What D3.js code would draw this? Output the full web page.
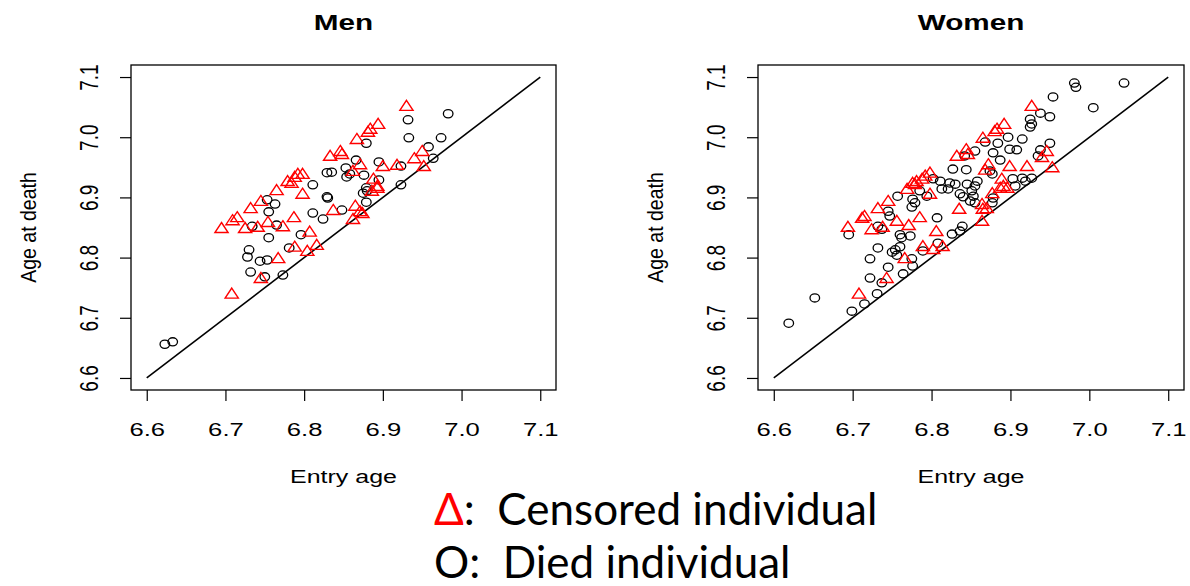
<!DOCTYPE html>
<html>
<head>
<meta charset="utf-8">
<script src="https://cdn.jsdelivr.net/npm/d3@7"></script>
<style>
  body { margin: 0; background: #fff; }
  svg { display: block; }
</style>
</head>
<body>
<svg id="chart" width="1190" height="586"></svg>
<script>
// Values (log-scale ages): [entry age, age at death]
const menDied = [
  [6.829, 6.941], [6.835, 6.942], [6.853, 6.949], [6.854, 6.934], [6.811, 6.921],
  [6.829, 6.901], [6.830, 6.899], [6.753, 6.896], [6.763, 6.889], [6.755, 6.876],
  [6.811, 6.874], [6.824, 6.864], [6.848, 6.879], [6.734, 6.852], [6.765, 6.854],
  [6.755, 6.833], [6.796, 6.838], [6.730, 6.813], [6.781, 6.816], [6.728, 6.801],
  [6.744, 6.794], [6.753, 6.796], [6.732, 6.776], [6.750, 6.768], [6.773, 6.771],
  [6.623, 6.656], [6.633, 6.660], [6.932, 7.029], [6.983, 7.039], [6.879, 6.990],
  [6.933, 6.999], [6.974, 6.999], [6.958, 6.984], [6.964, 6.965], [6.866, 6.962],
  [6.895, 6.959], [6.923, 6.952], [6.858, 6.939], [6.876, 6.937], [6.895, 6.929],
  [6.879, 6.916], [6.875, 6.907], [6.880, 6.911], [6.923, 6.921], [6.879, 6.892]
];
const menCensored = [
  [6.833, 6.969], [6.846, 6.977], [6.848, 6.972], [6.792, 6.939], [6.798, 6.939],
  [6.788, 6.934], [6.779, 6.927], [6.784, 6.924], [6.765, 6.912], [6.798, 6.906],
  [6.745, 6.894], [6.732, 6.882], [6.715, 6.867], [6.709, 6.862], [6.695, 6.849],
  [6.725, 6.849], [6.741, 6.851], [6.754, 6.859], [6.773, 6.852], [6.787, 6.867],
  [6.807, 6.843], [6.837, 6.879], [6.788, 6.818], [6.804, 6.811], [6.816, 6.821],
  [6.767, 6.799], [6.745, 6.766], [6.708, 6.740], [6.930, 7.052], [6.894, 7.022],
  [6.884, 7.014], [6.881, 7.009], [6.867, 6.997], [6.950, 6.977], [6.940, 6.965],
  [6.871, 6.955], [6.900, 6.952], [6.918, 6.954], [6.952, 6.952], [6.862, 6.944],
  [6.888, 6.931], [6.893, 6.916], [6.886, 6.911], [6.893, 6.919], [6.865, 6.886],
  [6.871, 6.877], [6.874, 6.874], [6.862, 6.864]
];
const womenDied = [
  [6.827, 6.947], [6.844, 6.946], [6.802, 6.931], [6.811, 6.927], [6.823, 6.924],
  [6.830, 6.922], [6.836, 6.906], [6.840, 6.901], [6.813, 6.914], [6.821, 6.914],
  [6.794, 6.902], [6.785, 6.911], [6.757, 6.902], [6.776, 6.897], [6.779, 6.891],
  [6.775, 6.884], [6.745, 6.877], [6.747, 6.869], [6.807, 6.866], [6.839, 6.852],
  [6.836, 6.844], [6.826, 6.839], [6.732, 6.852], [6.737, 6.847], [6.695, 6.838],
  [6.760, 6.838], [6.762, 6.833], [6.773, 6.836], [6.981, 7.090], [6.983, 7.083],
  [7.044, 7.090], [6.954, 7.067], [7.005, 7.049], [6.938, 7.040], [6.950, 7.034],
  [6.925, 7.030], [6.927, 7.022], [6.925, 7.017], [6.897, 7.000], [6.915, 6.997],
  [6.884, 6.990], [6.868, 6.992], [6.899, 6.980], [6.908, 6.979], [6.950, 6.990],
  [6.938, 6.979], [6.935, 6.969], [6.878, 6.974], [6.855, 6.977], [6.842, 6.969],
  [6.887, 6.962], [6.874, 6.944], [6.877, 6.939], [6.858, 6.927], [6.855, 6.919],
  [6.851, 6.911], [6.845, 6.922], [6.853, 6.902], [6.849, 6.894], [6.855, 6.891],
  [6.878, 6.899], [6.877, 6.891], [6.915, 6.932], [6.919, 6.927], [6.927, 6.932],
  [6.903, 6.931], [6.906, 6.919], [6.732, 6.816], [6.750, 6.809], [6.754, 6.813],
  [6.760, 6.818], [6.756, 6.804], [6.722, 6.798], [6.745, 6.784], [6.775, 6.798],
  [6.776, 6.786], [6.789, 6.811], [6.808, 6.824], [6.722, 6.766], [6.764, 6.773],
  [6.737, 6.758], [6.731, 6.740], [6.715, 6.723], [6.699, 6.711], [6.652, 6.733],
  [6.619, 6.691]
];
const womenCensored = [
  [6.832, 6.969], [6.844, 6.980], [6.798, 6.941], [6.792, 6.936], [6.788, 6.931],
  [6.781, 6.927], [6.776, 6.924], [6.779, 6.922], [6.769, 6.914], [6.798, 6.906],
  [6.745, 6.894], [6.732, 6.882], [6.835, 6.881], [6.715, 6.869], [6.712, 6.866],
  [6.785, 6.867], [6.756, 6.861], [6.694, 6.851], [6.724, 6.847], [6.738, 6.851],
  [6.771, 6.854], [6.806, 6.844], [6.846, 6.972], [6.927, 7.052], [6.892, 7.022],
  [6.880, 7.010], [6.883, 7.014], [6.865, 6.999], [6.946, 6.977], [6.940, 6.967],
  [6.872, 6.955], [6.868, 6.946], [6.899, 6.952], [6.921, 6.952], [6.953, 6.950],
  [6.889, 6.931], [6.891, 6.919], [6.887, 6.916], [6.896, 6.916], [6.877, 6.907],
  [6.864, 6.889], [6.870, 6.882], [6.865, 6.881], [6.864, 6.861], [6.789, 6.819],
  [6.802, 6.814], [6.814, 6.819], [6.766, 6.799], [6.743, 6.766], [6.708, 6.740]
];
const refLine = [6.6, 7.1];
const xTicks = [6.6, 6.7, 6.8, 6.9, 7.0, 7.1];
const yTicks = [6.6, 6.7, 6.8, 6.9, 7.0, 7.1];
const axisDomain = [6.58, 7.12];

// the source plot was stretched sideways, so the text is too
const SX = 1.35;
const svg = d3.select('#chart');

const panels = [
  { title: 'Men', left: 131, right: 556, died: menDied, censored: menCensored },
  { title: 'Women', left: 758, right: 1184, died: womenDied, censored: womenCensored }
];
const plotTop = 65, plotBottom = 390;

const triangle = 'M0,-5.6L6.6,4.4L-6.6,4.4Z';

panels.forEach(p => {
  const x = d3.scaleLinear().domain(axisDomain).range([p.left, p.right]);
  const y = d3.scaleLinear().domain(axisDomain).range([plotBottom, plotTop]);
  const g = svg.append('g').style('font-family', '"Liberation Sans", Arial, sans-serif');
  const mid = (p.left + p.right) / 2;

  // title
  g.append('text')
    .attr('transform', `translate(${mid},30) scale(${SX},1)`)
    .attr('text-anchor', 'middle')
    .style('font-size', '22px')
    .style('font-weight', 'bold')
    .text(p.title);

  // x axis
  const xa = g.append('g')
    .attr('transform', `translate(0,${plotBottom})`)
    .call(d3.axisBottom(x).tickValues(xTicks).tickFormat(d3.format('.1f')).tickSize(11).tickSizeOuter(0));
  xa.select('.domain').remove();
  xa.selectAll('line').attr('stroke', '#000').attr('stroke-width', 1.2);
  xa.selectAll('text')
    .attr('y', null).attr('dy', null)
    .attr('transform', `translate(0,46) scale(${SX},1)`)
    .attr('fill', '#000')
    .style('font-size', '19px')
    .style('font-family', '"Liberation Sans", Arial, sans-serif');

  // y axis
  const ya = g.append('g')
    .attr('transform', `translate(${p.left},0)`)
    .call(d3.axisLeft(y).tickValues(yTicks).tickFormat(d3.format('.1f')).tickSize(11).tickSizeOuter(0));
  ya.select('.domain').remove();
  ya.selectAll('line').attr('stroke', '#000').attr('stroke-width', 1.2);
  ya.selectAll('text')
    .attr('x', null).attr('dy', null)
    .attr('text-anchor', 'middle')
    .attr('transform', `translate(-33,0) scale(${SX},1) rotate(-90)`)
    .attr('fill', '#000')
    .style('font-size', '19px')
    .style('font-family', '"Liberation Sans", Arial, sans-serif');

  // axis labels
  g.append('text')
    .attr('transform', `translate(${mid},483) scale(${SX},1)`)
    .attr('text-anchor', 'middle')
    .style('font-size', '18.5px')
    .text('Entry age');
  g.append('text')
    .attr('transform', `translate(${p.left - 95},${(plotTop + plotBottom) / 2}) scale(1.1,1) rotate(-90)`)
    .attr('text-anchor', 'middle')
    .style('font-size', '19.5px')
    .text('Age at death');

  // box
  g.append('rect')
    .attr('x', p.left).attr('y', plotTop)
    .attr('width', p.right - p.left).attr('height', plotBottom - plotTop)
    .attr('fill', 'none').attr('stroke', '#000').attr('stroke-width', 1.3);

  // y = x reference line
  g.append('line')
    .attr('x1', x(refLine[0])).attr('y1', y(refLine[0]))
    .attr('x2', x(refLine[1])).attr('y2', y(refLine[1]))
    .attr('stroke', '#000').attr('stroke-width', 1.6);

  g.selectAll('ellipse.died')
    .data(p.died)
    .join('ellipse')
    .attr('class', 'died')
    .attr('cx', d => x(d[0]))
    .attr('cy', d => y(d[1]))
    .attr('rx', 4.8).attr('ry', 4.1)
    .attr('fill', 'none').attr('stroke', '#000').attr('stroke-width', 1.3);

  g.selectAll('path.cens')
    .data(p.censored)
    .join('path')
    .attr('class', 'cens')
    .attr('d', triangle)
    .attr('transform', d => `translate(${x(d[0])},${y(d[1])})`)
    .attr('fill', 'none').attr('stroke', '#ff0000').attr('stroke-width', 1.4);
});

// legend below the plots (two spaces after the colon, kept as nbsp)
const legend = svg.append('g')
  .style('font-family', 'Lato, "Open Sans", sans-serif')
  .style('font-size', '44px');
const l1 = legend.append('text').attr('x', 434).attr('y', 525);
l1.append('tspan').attr('fill', '#ff0000').text('\u0394');
l1.append('tspan').attr('fill', '#000').text(':\u00a0\u00a0Censored individual');
legend.append('text').attr('x', 434).attr('y', 578).attr('fill', '#000')
  .text('O:\u00a0\u00a0Died individual');
</script>
</body>
</html>
